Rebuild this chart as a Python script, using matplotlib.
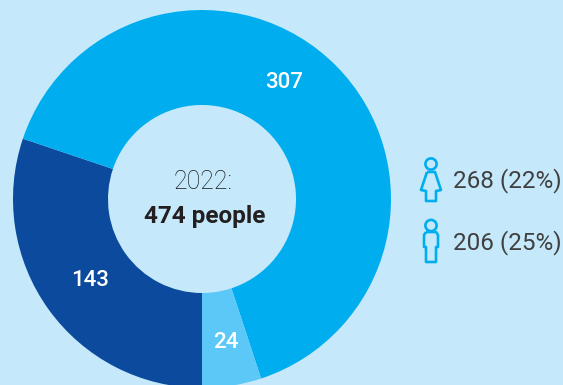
import matplotlib
matplotlib.use('Agg')
import matplotlib.pyplot as plt
from matplotlib.patches import Circle, PathPatch
from matplotlib.path import Path

# donut segments, clockwise from the bottom
segment_values = [143, 307, 24]
segment_colors = ['#0b4a9c', '#00aeef', '#5bc8f7']
year_label = '2022:'
total_label = '474 people'
women_label = '268 (22%)'
men_label = '206 (25%)'

W, H = 563, 385
bg = '#c5e9fb'
icon_col = '#00aeef'
plt.rcParams['font.family'] = ['Roboto', 'DejaVu Sans']

fig = plt.figure(figsize=(W / 100, H / 100), dpi=100, facecolor=bg)
ax = fig.add_axes([0, 0, 1, 1])

cx, cy, r_out, r_in = 202, H - 199, 189, 94
wedges, _ = ax.pie(segment_values, colors=segment_colors, startangle=270, counterclock=False,
                   center=(cx, cy), radius=r_out, frame=True,
                   wedgeprops=dict(width=r_out - r_in, linewidth=0))
ax.set_xlim(0, W)
ax.set_ylim(0, H)
ax.set_aspect('equal')
ax.axis('off')

# value labels in the middle of each ring segment
label_pos = [(90, 281), (284, 82), (226, 342)]
for val, (x, y) in zip(segment_values, label_pos):
    ax.text(x, H - y, str(val), color='white', fontsize=16, fontweight='medium', ha='center', va='center')

ax.text(203, H - 182, year_label, color='#1a1a1a', fontsize=18, fontweight='light', ha='center', va='center')
ax.text(205, H - 217, total_label, color='#231f20', fontsize=17.5, fontweight='bold', ha='center', va='center')


def draw_icon(head_y, body):
    ax.add_patch(Circle((431, H - head_y), 5.6, fc='none', ec=icon_col, lw=1.9))
    ax.add_patch(PathPatch(Path([(x, H - y) for x, y in body]), fc='none', ec=icon_col, lw=1.9, joinstyle='round'))


# female outline
draw_icon(164, [(427, 172), (435, 172), (441, 190), (436, 191), (436, 201), (426, 201),
                (426, 191), (421, 190), (427, 172)])
# male outline
draw_icon(225.5, [(426, 232), (436, 232), (438, 235), (438, 247), (436, 247), (436, 262),
                  (426, 262), (426, 247), (424, 247), (424, 235), (426, 232)])

ax.text(453, H - 181, women_label, color='#404040', fontsize=17.5, ha='left', va='center')
ax.text(453, H - 243, men_label, color='#404040', fontsize=17.5, ha='left', va='center')

fig.savefig('out.png', dpi=100, facecolor=bg)
